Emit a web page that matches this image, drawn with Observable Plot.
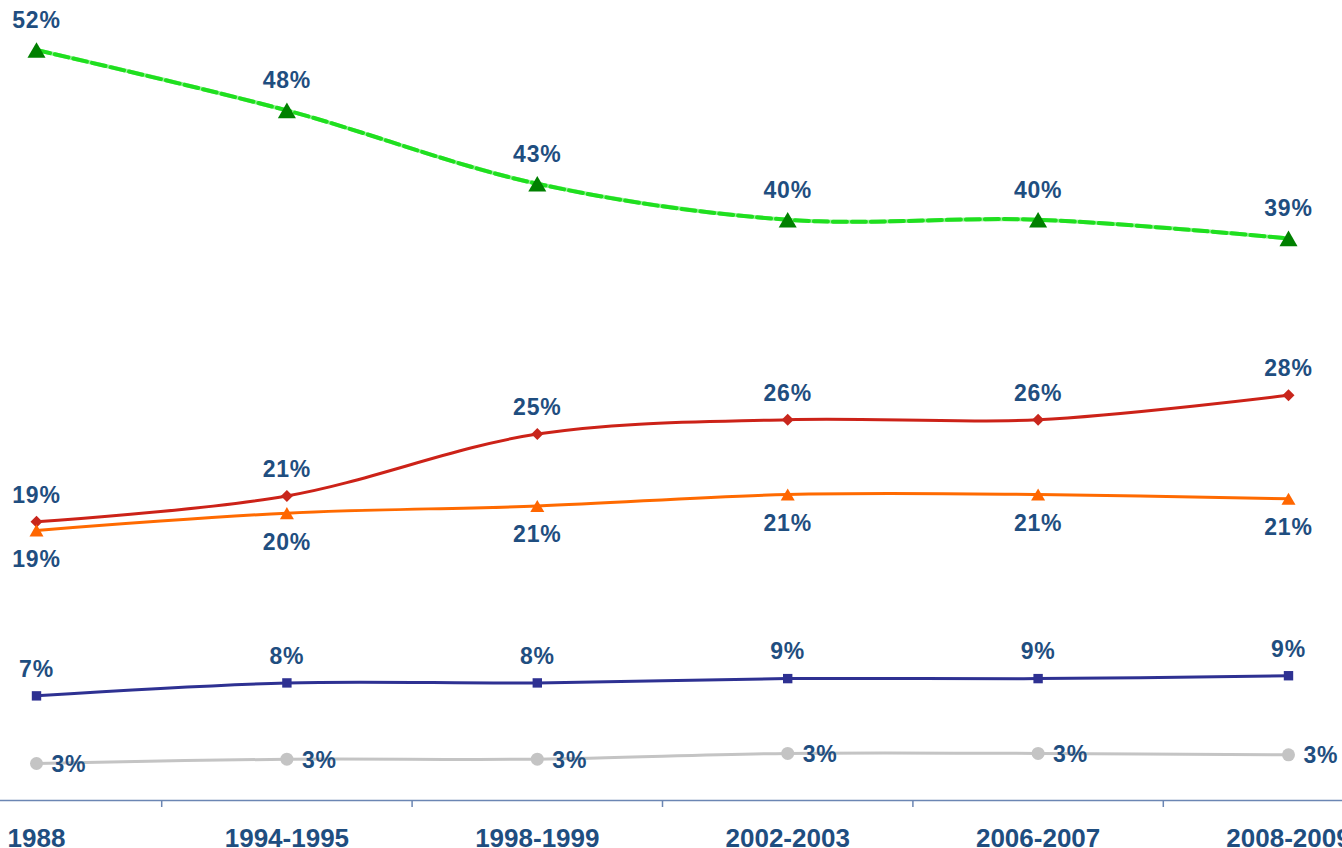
<!DOCTYPE html>
<html>
<head>
<meta charset="utf-8">
<script src="https://cdn.jsdelivr.net/npm/d3@7"></script>
<script src="https://cdn.jsdelivr.net/npm/@observablehq/plot@0.6"></script>
<style>
  html, body { margin: 0; padding: 0; background: #fff; overflow: hidden; }
  #chart svg { display: block; }
  #chart g[aria-label="text"] text { letter-spacing: 0.8px; }
</style>
</head>
<body>
<div id="chart"></div>
<script>
const categories = ["1988", "1994-1995", "1998-1999", "2002-2003", "2006-2007", "2008-2009"];

const seriesGreen  = [52.0, 47.8, 42.7, 40.2, 40.2, 38.9];
const labelsGreen  = ["52%", "48%", "43%", "40%", "40%", "39%"];

const seriesRed    = [19.2, 21.0, 25.3, 26.3, 26.3, 28.0];
const labelsRed    = ["19%", "21%", "25%", "26%", "26%", "28%"];

const seriesOrange = [18.6, 19.8, 20.3, 21.1, 21.1, 20.8];
const labelsOrange = ["19%", "20%", "21%", "21%", "21%", "21%"];

const seriesBlue   = [7.1, 8.0, 8.0, 8.3, 8.3, 8.5];
const labelsBlue   = ["7%", "8%", "8%", "9%", "9%", "9%"];

const seriesGray   = [2.4, 2.7, 2.7, 3.1, 3.1, 3.0];
const labelsGray   = ["3%", "3%", "3%", "3%", "3%", "3%"];

const labelColor = "#1f4e80";
const font = "'Liberation Sans', Arial, Helvetica, sans-serif";

const idx = (d, i) => i;

function lineMarks(values, stroke, width, extra = {}) {
  return Plot.line(values, {x: idx, y: d => d, curve: "catmull-rom", stroke, strokeWidth: width, ...extra});
}
function dotMarks(values, symbol, r, fill, dy = 0) {
  return Plot.dot(values, {x: idx, y: d => d, symbol, r, fill, stroke: "none", dy});
}
function labelMarks(labels, values, opts) {
  return Plot.text(labels, {
    x: idx, y: (d, i) => values[i], text: d => d,
    fill: labelColor, fontSize: 23, fontWeight: "bold", fontFamily: font, ...opts
  });
}

const midTicks = d3.range(0.5, categories.length - 1, 1);

const chart = Plot.plot({
  width: 1342,
  height: 848,
  marginTop: 0, marginRight: 0, marginBottom: 48, marginLeft: 0,
  style: {fontFamily: font, background: "#fff", overflow: "visible"},
  x: {type: "linear", domain: [0, categories.length - 1], range: [36, 1288]},
  y: {type: "linear", domain: [0, 52], range: [797.5, 49.5], axis: null},
  marks: [
    Plot.frame({anchor: "bottom", stroke: "#6b86b3", strokeWidth: 1.5}),
    Plot.axisX(midTicks, {tickSize: 7, tickFormat: () => "", stroke: "#6b86b3", strokeWidth: 1.5}),
    Plot.axisX(d3.range(categories.length), {
      tickSize: 0, tickPadding: 28, tickFormat: i => categories[i],
      fill: labelColor, fontSize: 26, fontWeight: "bold", fontFamily: font, label: null
    }),
    // green: light base with bright dashes
    lineMarks(seriesGreen, "#93f093", 4),
    lineMarks(seriesGreen, "#1fdf1f", 4, {strokeDasharray: "14,5"}),
    lineMarks(seriesRed, "#cc2218", 3),
    lineMarks(seriesOrange, "#ff6a00", 3),
    lineMarks(seriesBlue, "#2e3192", 3),
    lineMarks(seriesGray, "#c4c4c4", 3),
    dotMarks(seriesGreen, "triangle", 6.7, "#008000", 2.6),
    dotMarks(seriesRed, "diamond2", 5.4, "#c8261c"),
    dotMarks(seriesOrange, "triangle", 5.2, "#ff6600", 2),
    dotMarks(seriesBlue, "square", 5.3, "#2e3192"),
    dotMarks(seriesGray, "circle", 6.5, "#c4c4c4"),
    labelMarks(labelsGreen, seriesGreen, {dy: -29.5}),
    labelMarks(labelsRed, seriesRed, {dy: -26.5}),
    labelMarks(labelsOrange, seriesOrange, {dy: 29}),
    labelMarks(labelsBlue, seriesBlue, {dy: -26.5}),
    labelMarks(labelsGray, seriesGray, {dx: 15, dy: 1, textAnchor: "start"})
  ]
});

document.getElementById("chart").appendChild(chart);
</script>
</body>
</html>
